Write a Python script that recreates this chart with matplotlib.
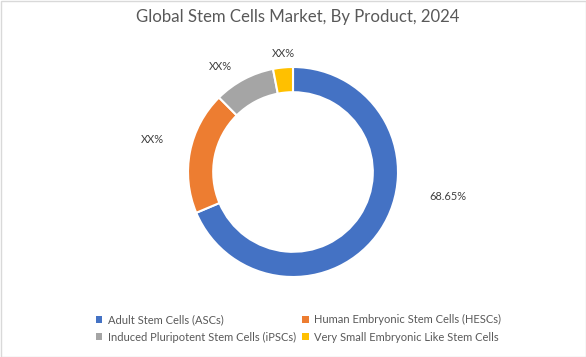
import matplotlib
matplotlib.use("Agg")
import matplotlib.pyplot as plt
from matplotlib.patches import Patch, Rectangle

categories = ["Adult Stem Cells (ASCs)", "Human Embryonic Stem Cells (HESCs)",
              "Induced Pluripotent Stem Cells (iPSCs)", "Very Small Embryonic Like Stem Cells"]
values = [68.65, 18.9, 9.4, 3.05]
value_labels = ["68.65%", "XX%", "XX%", "XX%"]
colors = ["#4472C4", "#ED7D31", "#A5A5A5", "#FFC000"]
title = "Global Stem Cells Market, By Product, 2024"

# label placement (data units, pie radius = 1)
label_pos = [(1.476, -0.238), (-1.343, 0.314), (-0.695, 1.0), (-0.095, 1.124)]

plt.rcParams['font.family'] = ['Lato', 'DejaVu Sans']

W, H = 586, 357
fig = plt.figure(figsize=(W / 100, H / 100), dpi=100)
fig.patch.set_facecolor("white")

R = 105.0
cx, cy = 293.0, 357 - 172.0
ax = fig.add_axes([0, 0, 1, 1])
ax.pie(values, colors=colors, startangle=90, counterclock=False, radius=1.0,
       wedgeprops=dict(width=0.24, edgecolor="white", linewidth=1.5))
ax.set_xlim(-cx / R, (W - cx) / R)
ax.set_ylim(-cy / R, (H - cy) / R)
ax.set_aspect("auto")
ax.axis("off")

for txt, (x, y) in zip(value_labels, label_pos):
    ax.text(x, y, txt, ha="center", va="center", fontsize=7.9, color="#404040")

fig.text(298 / W, 1 - 17 / H, title, ha="center", va="center", fontsize=12.1, color="#595959")

# row-major legend order (matplotlib fills columns first)
order = [0, 2, 1, 3]
handles = [Patch(facecolor=colors[i], edgecolor="none") for i in order]
labels = [categories[i] for i in order]
leg = fig.legend(handles, labels, ncol=2, loc="center left",
                 bbox_to_anchor=(90 / W, 1 - 328.5 / H), frameon=False,
                 fontsize=8, labelcolor="#595959", handlelength=0.6, handleheight=0.6,
                 handletextpad=0.5, columnspacing=0.55, labelspacing=0.55, borderpad=0)

fig.add_artist(Rectangle((0.5 / W, 0.5 / H), 1 - 1 / W, 1 - 1 / H, transform=fig.transFigure,
                         fill=False, edgecolor="#D9D9D9", linewidth=1))

fig.savefig("out.png", dpi=100)
